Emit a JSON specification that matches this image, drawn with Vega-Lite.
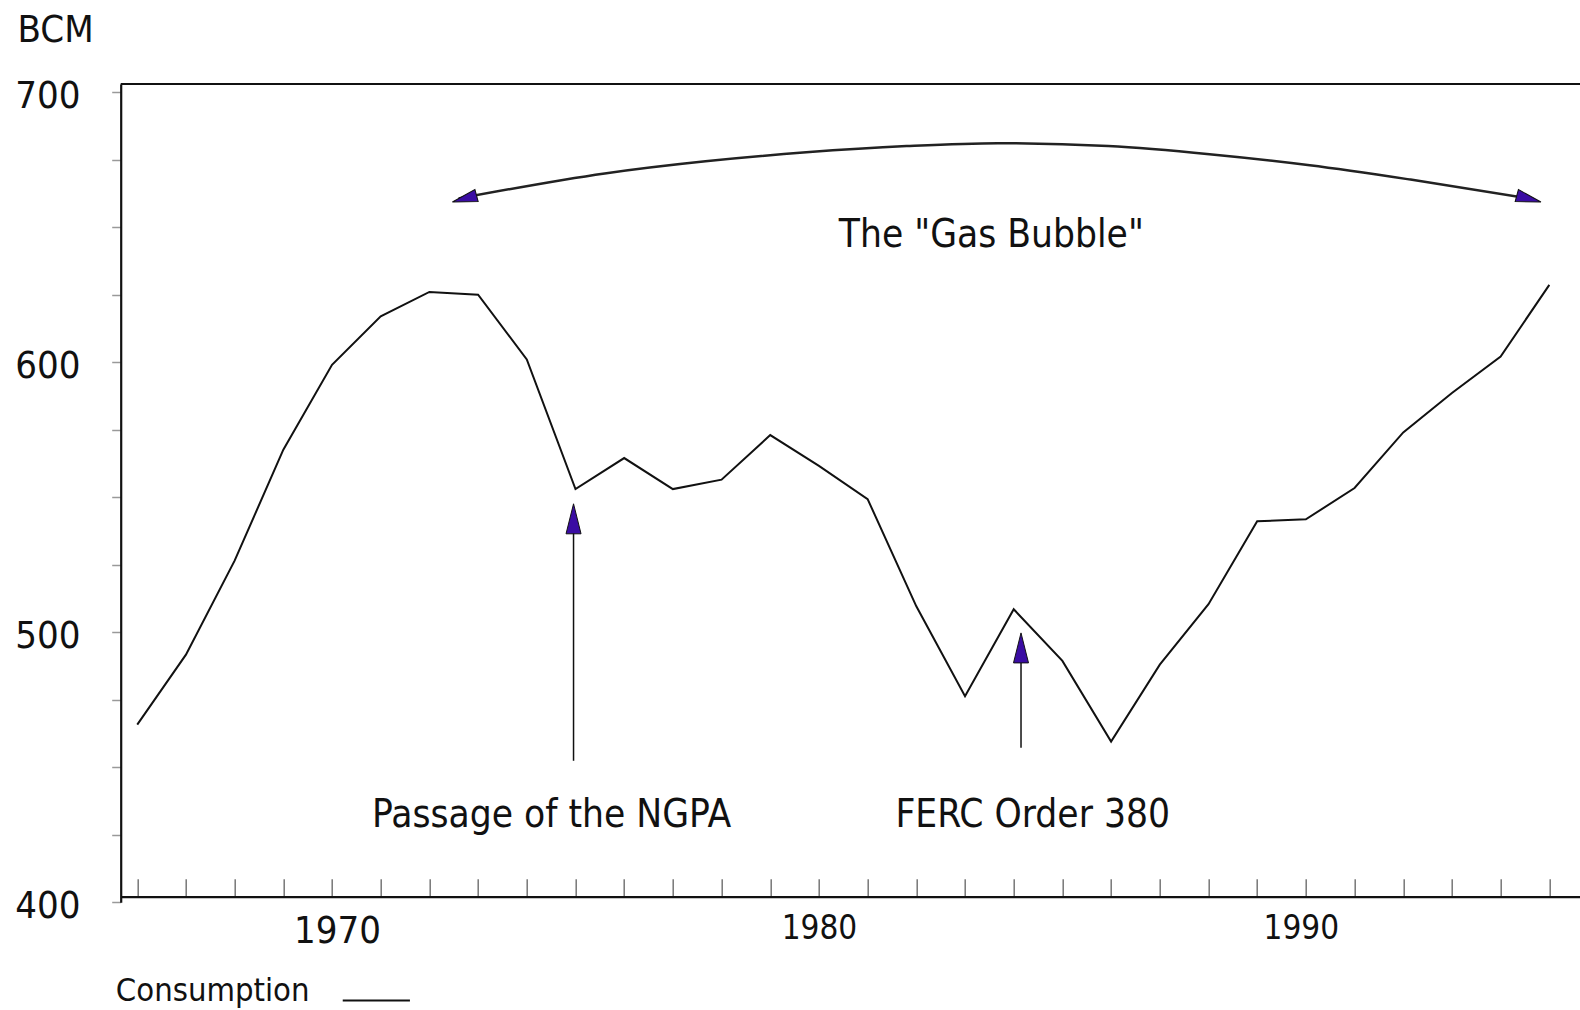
{
  "$schema": "https://vega.github.io/schema/vega-lite/v6.json",
  "autosize": {"type": "none"},
  "padding": {"left": 120.7, "top": 84, "right": 0, "bottom": 107.7},
  "width": 1459.3,
  "height": 818.3,
  "background": "white",
  "config": {
    "view": {"stroke": null},
    "font": "DejaVu Sans Condensed, DejaVu Sans, sans-serif",
    "text": {"font": "DejaVu Sans Condensed, DejaVu Sans, sans-serif"}
  },
  "datasets": {
    "consumption": [
      {"year": 1966, "bcm": 465.8}, {"year": 1967, "bcm": 491.7}, {"year": 1968, "bcm": 526.5},
      {"year": 1969, "bcm": 567.6}, {"year": 1970, "bcm": 599.0}, {"year": 1971, "bcm": 617.0},
      {"year": 1972, "bcm": 626.0}, {"year": 1973, "bcm": 625.0}, {"year": 1974, "bcm": 601.0},
      {"year": 1975, "bcm": 553.0}, {"year": 1976, "bcm": 564.5}, {"year": 1977, "bcm": 553.0},
      {"year": 1978, "bcm": 556.5}, {"year": 1979, "bcm": 573.0}, {"year": 1980, "bcm": 561.6},
      {"year": 1981, "bcm": 549.3}, {"year": 1982, "bcm": 509.6}, {"year": 1983, "bcm": 476.3},
      {"year": 1984, "bcm": 508.5}, {"year": 1985, "bcm": 489.4}, {"year": 1986, "bcm": 459.5},
      {"year": 1987, "bcm": 488.0}, {"year": 1988, "bcm": 510.4}, {"year": 1989, "bcm": 541.1},
      {"year": 1990, "bcm": 541.8}, {"year": 1991, "bcm": 553.4}, {"year": 1992, "bcm": 574.0},
      {"year": 1993, "bcm": 588.6}, {"year": 1994, "bcm": 602.1}, {"year": 1995, "bcm": 628.6}
    ],
    "frame": [{"edge": "top", "y": 703}],
    "arc": [
      {"x": 1972.6, "y": 660.6}, {"x": 1975.6, "y": 669.9}, {"x": 1977.67, "y": 674.4},
      {"x": 1979.74, "y": 677.7}, {"x": 1981.8, "y": 680.0}, {"x": 1983.67, "y": 681.1},
      {"x": 1985.94, "y": 680.0}, {"x": 1988.02, "y": 677.0}, {"x": 1990.08, "y": 672.9},
      {"x": 1992.15, "y": 667.6}, {"x": 1994.6, "y": 660.6}
    ],
    "shafts": [
      {"event": "NGPA", "x": 1974.96, "y1": 452.4, "y2": 540},
      {"event": "FERC", "x": 1984.15, "y1": 457.2, "y2": 492}
    ],
    "upheads": [
      {"event": "NGPA", "x": 1974.96, "y": 542},
      {"event": "FERC", "x": 1984.15, "y": 494.2}
    ],
    "lefthead": [{"x": 1972.72, "y": 660.5}],
    "righthead": [{"x": 1994.58, "y": 660.5}],
    "notes": [
      {"label": "The \"Gas Bubble\"", "x": 1983.54, "y": 642.6},
      {"label": "Passage of the NGPA", "x": 1974.51, "y": 428},
      {"label": "FERC Order 380", "x": 1984.39, "y": 428}
    ],
    "legendtext": [{"label": "Consumption", "x": 1965.56, "y": 363.6}],
    "legendline": [{"x": 1970.22, "x2": 1971.6, "y": 363.6}]
  },
  "layer": [
    {
      "data": {"name": "consumption"},
      "mark": {"type": "line", "color": "#111", "strokeWidth": 2},
      "encoding": {
        "x": {
          "field": "year", "type": "quantitative",
          "scale": {"domain": [1965.66, 1995.63], "nice": false, "zero": false},
          "axis": {
            "title": null,
            "values": [1966,1967,1968,1969,1970,1971,1972,1973,1974,1975,1976,1977,1978,1979,1980,1981,1982,1983,1984,1985,1986,1987,1988,1989,1990,1991,1992,1993,1994,1995],
            "labelExpr": "datum.value % 10 == 0 ? '' + datum.value : ''",
            "labelFontSize": {"condition": {"test": "datum.value == 1970", "value": 38}, "value": 33},
            "labelOffset": {"condition": [{"test": "datum.value == 1970", "value": 5}, {"test": "datum.value == 1990", "value": -5}], "value": 0},
            "labelColor": "#111",
            "labelFont": "DejaVu Sans Condensed, DejaVu Sans, sans-serif",
            "labelOverlap": false,
            "labelFlush": false,
            "labelBaseline": "top",
            "labelPadding": 34,
            "offset": -5.6,
            "tickSize": -18,
            "tickColor": "#777",
            "tickWidth": 1.5,
            "domainColor": "#111",
            "domainWidth": 2.2,
            "grid": false
          }
        },
        "y": {
          "field": "bcm", "type": "quantitative",
          "scale": {"domain": [400, 703], "nice": false, "zero": false},
          "axis": {
            "title": "BCM",
            "titleAngle": 0,
            "titleAlign": "left",
            "titleBaseline": "alphabetic",
            "titleX": -103.7,
            "titleY": -42.3,
            "titleFontSize": 38,
            "titleFontWeight": "normal",
            "titleColor": "#111",
            "titleFont": "DejaVu Sans Condensed, DejaVu Sans, sans-serif",
            "values": [400,425,450,475,500,525,550,575,600,625,650,675,700],
            "labelExpr": "datum.value % 100 == 0 ? '' + datum.value : ''",
            "labelFontSize": 38,
            "labelColor": "#111",
            "labelFont": "DejaVu Sans Condensed, DejaVu Sans, sans-serif",
            "labelBaseline": "middle",
            "labelOffset": 4,
            "labelPadding": 31.7,
            "labelOverlap": false,
            "labelFlush": false,
            "tickSize": 9,
            "tickColor": "#999",
            "tickWidth": 1.5,
            "domainColor": "#111",
            "domainWidth": 2.2,
            "grid": false
          }
        }
      }
    },
    {
      "data": {"name": "frame"},
      "mark": {"type": "rule", "color": "#111", "strokeWidth": 2.2},
      "encoding": {"y": {"field": "y", "type": "quantitative"}}
    },
    {
      "data": {"name": "arc"},
      "mark": {"type": "line", "color": "#222", "strokeWidth": 2.5, "interpolate": "monotone"},
      "encoding": {
        "x": {"field": "x", "type": "quantitative"},
        "y": {"field": "y", "type": "quantitative"}
      }
    },
    {
      "data": {"name": "shafts"},
      "mark": {"type": "rule", "color": "#111", "strokeWidth": 1.5},
      "encoding": {
        "x": {"field": "x", "type": "quantitative"},
        "y": {"field": "y1", "type": "quantitative"},
        "y2": {"field": "y2"}
      }
    },
    {
      "data": {"name": "upheads"},
      "mark": {"type": "point", "shape": "M0,-1L0.5,1L-0.5,1Z", "size": 900, "filled": true, "fill": "#3a0ca3", "stroke": "#111", "strokeWidth": 1, "opacity": 1},
      "encoding": {
        "x": {"field": "x", "type": "quantitative"},
        "y": {"field": "y", "type": "quantitative"}
      }
    },
    {
      "data": {"name": "lefthead"},
      "mark": {"type": "point", "shape": "M-1,0L1,-0.5L1,0.5Z", "size": 625, "angle": -15, "filled": true, "fill": "#3a0ca3", "stroke": "#111", "strokeWidth": 1, "opacity": 1},
      "encoding": {
        "x": {"field": "x", "type": "quantitative"},
        "y": {"field": "y", "type": "quantitative"}
      }
    },
    {
      "data": {"name": "righthead"},
      "mark": {"type": "point", "shape": "M1,0L-1,-0.5L-1,0.5Z", "size": 625, "angle": 15, "filled": true, "fill": "#3a0ca3", "stroke": "#111", "strokeWidth": 1, "opacity": 1},
      "encoding": {
        "x": {"field": "x", "type": "quantitative"},
        "y": {"field": "y", "type": "quantitative"}
      }
    },
    {
      "data": {"name": "notes"},
      "mark": {"type": "text", "fontSize": 38.5, "align": "center", "baseline": "alphabetic", "color": "#111"},
      "encoding": {
        "x": {"field": "x", "type": "quantitative"},
        "y": {"field": "y", "type": "quantitative"},
        "text": {"field": "label"}
      }
    },
    {
      "data": {"name": "legendtext"},
      "mark": {"type": "text", "fontSize": 32.5, "align": "left", "baseline": "alphabetic", "color": "#111"},
      "encoding": {
        "x": {"field": "x", "type": "quantitative"},
        "y": {"field": "y", "type": "quantitative"},
        "text": {"field": "label"}
      }
    },
    {
      "data": {"name": "legendline"},
      "mark": {"type": "rule", "color": "#111", "strokeWidth": 2},
      "encoding": {
        "x": {"field": "x", "type": "quantitative"},
        "x2": {"field": "x2"},
        "y": {"field": "y", "type": "quantitative"}
      }
    }
  ]
}
